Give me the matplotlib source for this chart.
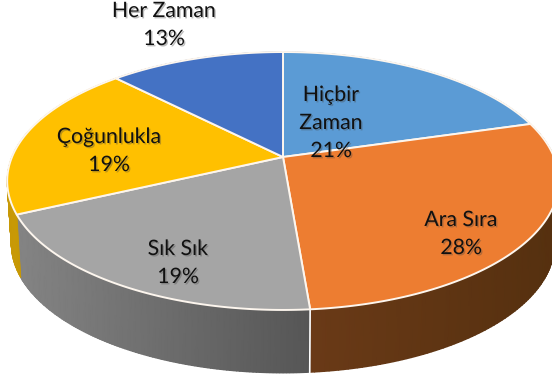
import numpy as np
import matplotlib
matplotlib.use('Agg')
import matplotlib.pyplot as plt
import matplotlib.patheffects as pe
from matplotlib.colors import LinearSegmentedColormap

etiketler = ['Hiçbir\nZaman', 'Ara Sıra', 'Sık Sık', 'Çoğunlukla', 'Her Zaman']
porcentajes = [21, 28, 19, 19, 13]
# tamano de cada porcion medido en el dibujo
cuotas = [20.5, 28.2, 19.3, 19.7, 12.3]

colores = ['#5B9BD5', '#ED7D31', '#A5A5A5', '#FFC000', '#4472C4']
# lateral: color izquierdo -> color derecho
laterales = [('#3a6690', '#2f5578'), ('#6a3a17', '#55300f'), ('#848484', '#565656'),
             ('#c99a06', '#b88c00'), ('#2f4f88', '#2f4f88')]
pos_texto = [(331, 123), (461, 234), (178, 263), (109, 151), (164, 25)]

# geometria de la perspectiva, en pixeles
CX, CY = 283, 157
RX, RY, K = 271, 124.5, 0.186
ALTO = 63
ESC_BASE = 0.985


def proyectar(ang, dy=0.0, esc=1.0):
    # angulo en sentido horario desde las 12
    u, v = np.sin(ang), np.cos(ang)
    w = 1 + K * v
    return CX + esc * RX * u / w, CY + dy - RY * v / w


fig = plt.figure(figsize=(5.52, 3.80), dpi=100)
ax = fig.add_axes([0, 0, 1, 1])
ax.set_xlim(0, 552)
ax.set_ylim(380, 0)
ax.axis('off')

cortes = 2 * np.pi * np.cumsum([0] + cuotas) / sum(cuotas)
tramos = list(zip(cortes[:-1], cortes[1:]))

# paredes laterales
for i in [4, 0, 3, 1, 2]:
    a0, a1 = tramos[i]
    t = np.linspace(a0, a1, 120)
    xs, ys = proyectar(t)
    xi, yi = proyectar(t, ALTO, ESC_BASE)
    X = np.vstack([xs, xi])
    Y = np.vstack([ys, yi])
    C = (X - X.min()) / max(X.max() - X.min(), 1)
    cmap = LinearSegmentedColormap.from_list('lado', laterales[i])
    ax.pcolormesh(X, Y, C, cmap=cmap, shading='gouraud', zorder=1 + i * 0.01)

# divisiones blancas de la pared
xa, ya = proyectar(cortes[2])
xb, yb = proyectar(cortes[2], ALTO, ESC_BASE)
ax.plot([xa, xb], [ya, yb], color='white', lw=1.2, zorder=2)

# cara superior
for i, (a0, a1) in enumerate(tramos):
    t = np.linspace(a0, a1, 150)
    xs, ys = proyectar(t)
    ax.fill(np.r_[CX, xs], np.r_[CY, ys], facecolor=colores[i], edgecolor='#fdf6ee',
            lw=1.4, joinstyle='round', zorder=3)

# textos
sombra = [pe.withSimplePatchShadow(offset=(1, -1), shadow_rgbFace='#444444', alpha=0.35)]
for nombre, v, (x, y) in zip(etiketler, porcentajes, pos_texto):
    ax.text(x, y, f'{nombre}\n{v}%', ha='center', va='center', family='Lato',
            fontsize=15.3, color='#111111', linespacing=1.5, zorder=5, path_effects=sombra)

fig.savefig('out.png', dpi=100)
